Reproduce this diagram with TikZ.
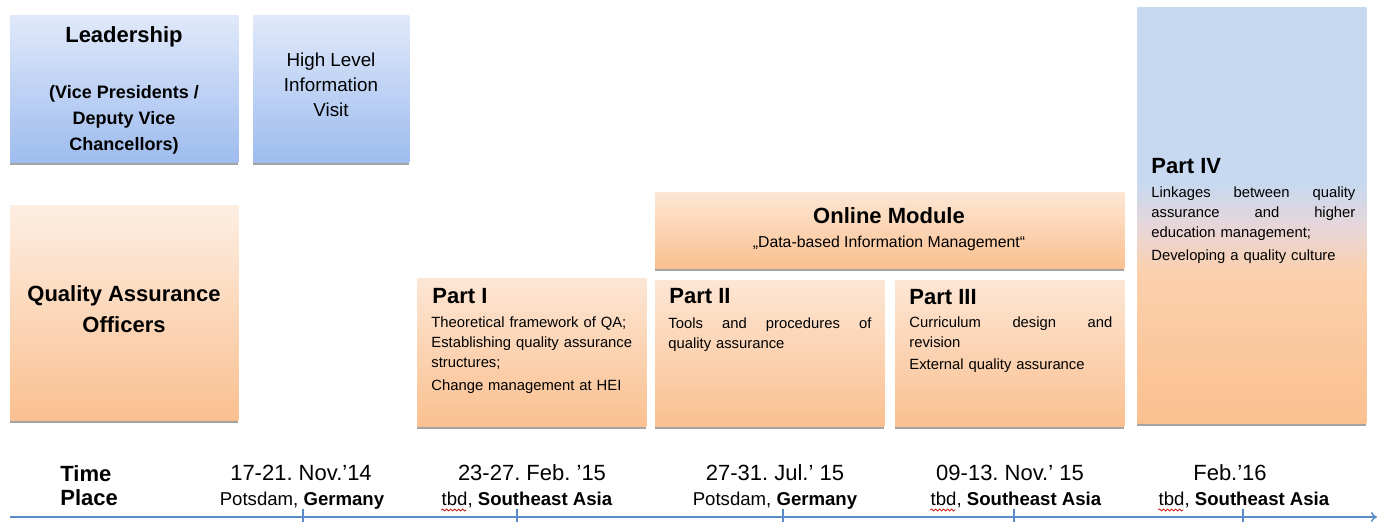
\documentclass[tikz,border=0pt]{standalone}
\usepackage{fontspec}
\setmainfont{Liberation Sans}
\usetikzlibrary{shadows,arrows.meta,decorations.pathmorphing}
\frenchspacing
\definecolor{bluetop}{RGB}{224,233,250}
\definecolor{bluebot}{RGB}{158,188,238}
\definecolor{orntop}{RGB}{253,230,212}
\definecolor{ornlight}{RGB}{253,238,226}
\definecolor{ornbot}{RGB}{250,192,144}
\definecolor{pivblue}{RGB}{198,217,240}
\definecolor{pivpink}{RGB}{232,214,216}
\definecolor{pivpeach}{RGB}{252,208,172}
\definecolor{axisblue}{RGB}{91,139,201}
\pgfdeclareverticalshading{partiv}{100bp}{color(0bp)=(ornbot); color(25bp)=(ornbot); color(43bp)=(pivpeach); color(48.5bp)=(pivpink); color(54bp)=(pivblue); color(100bp)=(pivblue)}
\newcommand{\jline}[2]{\makebox[#1][l]{#2}}
\tikzset{
  shbox/.style={draw=none, inner sep=0pt, anchor=north west,
    drop shadow={shadow xshift=0pt, shadow yshift=-1.3pt, fill=black!40, opacity=0.9}},
  bluebox/.style={shbox, top color=bluetop, bottom color=bluebot},
  orangebox/.style={shbox, top color=orntop, bottom color=ornbot},
  headbig/.style={font=\fontsize{11}{15.5}\selectfont\bfseries, inner sep=0pt},
  headsub/.style={font=\fontsize{9}{13}\selectfont\bfseries, inner sep=0pt, align=center},
  plain/.style={font=\fontsize{9.4}{12.5}\selectfont, inner sep=0pt, align=center},
  parttitle/.style={font=\fontsize{11}{13}\selectfont\bfseries, inner sep=0pt, anchor=base west},
  body/.style={font=\fontsize{7.4}{10}\selectfont, inner sep=0pt, anchor=base west, align=left, text width=110pt},
  small/.style={font=\fontsize{7.9}{10}\selectfont, inner sep=0pt, anchor=base},
  datetxt/.style={font=\fontsize{11}{13}\selectfont, inner sep=0pt, anchor=base},
  placetxt/.style={font=\fontsize{9.3}{11}\selectfont, inner sep=0pt, anchor=base},
  tltxt/.style={font=\fontsize{11}{13}\selectfont\bfseries, inner sep=0pt, anchor=base west},
  axisline/.style={draw=axisblue, line width=0.75pt},
  squig/.style={draw=red!80!black, line width=0.35pt, decorate, decoration={snake, amplitude=0.5pt, segment length=2pt}},
}
\begin{document}
\begin{tikzpicture}[x=0.5pt, y=-0.5pt]
\useasboundingbox (0,0) rectangle (1379,522);
% boxes
\node[bluebox, minimum width=114pt, minimum height=73.5pt] (leader) at (10,15) {};
\node[bluebox, minimum width=78pt, minimum height=73.5pt] (hlv) at (253,15) {};
\node[shbox, top color=ornlight, bottom color=ornbot, minimum width=114pt, minimum height=107.5pt] (qao) at (10,205) {};
\node[orangebox, minimum width=114.5pt, minimum height=74pt] (p1) at (417,278) {};
\node[orangebox, minimum width=234.5pt, minimum height=38pt] (online) at (655,192) {};
\node[orangebox, minimum width=114.5pt, minimum height=73pt] (p2) at (655,280) {};
\node[orangebox, minimum width=114.5pt, minimum height=73pt] (p3) at (895,280) {};
\node[shbox, shading=partiv, minimum width=114.5pt, minimum height=208pt] (p4) at (1137,7) {};
% texts in boxes
\node[headbig, anchor=base] (leadT) at (124,43) {Leadership};
\node[headsub, anchor=base] (leadS) at (124,151) {(Vice Presidents /\\Deputy Vice\\Chancellors)};
\node[plain, anchor=base] (hlvT) at (331,117) {High Level\\Information\\Visit};
\node[headbig, align=center, anchor=base] (qaoT) at (124,333) {Quality Assurance\\Officers};
\node[headbig, anchor=base] (onlineT) at (889,224) {Online Module};
\node[small] (onlineS) at (889,248) {„Data-based Information Management“};
\node[parttitle] (p1T) at (432,304) {Part I};
\node[body] (p1B) at (431,328) {Theoretical framework of QA;\\Establishing quality assurance\\structures;\\[1.5pt]Change management at HEI};
\node[parttitle] (p2T) at (669,304) {Part II};
\node[body] (p2B) at (668,329) {\jline{101.5pt}{Tools\hfill and\hfill procedures\hfill of}\\quality assurance};
\node[parttitle] (p3T) at (909,305) {Part III};
\node[body] (p3B) at (909,328) {\jline{101.5pt}{Curriculum\hfill design\hfill and}\\revision\\[1pt]External quality assurance};
\node[parttitle] (p4T) at (1151,174) {Part IV};
\node[body] (p4B) at (1151,198) {\jline{102pt}{Linkages\hfill between\hfill quality}\\\jline{102pt}{assurance\hfill and\hfill higher}\\education management;\\[1.5pt]Developing a quality culture};
% timeline
\node[tltxt] (time) at (60,482) {Time};
\node[tltxt] (place) at (60,506) {Place};
\node[datetxt] (d1) at (301,481) {17-21. Nov.’14};
\node[placetxt] (l1) at (302,506) {Potsdam, \textbf{Germany}};
\node[datetxt] (d2) at (532,481) {23-27. Feb. ’15};
\node[placetxt] (l2) at (527,506) {tbd, \textbf{Southeast Asia}};
\node[datetxt] (d3) at (775,481) {27-31. Jul.’ 15};
\node[placetxt] (l3) at (775,506) {Potsdam, \textbf{Germany}};
\node[datetxt] (d4) at (1010,481) {09-13. Nov.’ 15};
\node[placetxt] (l4) at (1016,506) {tbd, \textbf{Southeast Asia}};
\node[datetxt] (d5) at (1230,481) {Feb.’16};
\node[placetxt] (l5) at (1244,506) {tbd, \textbf{Southeast Asia}};
\foreach \n in {l2,l4,l5} {
  \draw[squig] ([yshift=-2pt]\n.base west) -- ++(12.5pt,0pt);
}
\coordinate (ax0) at (10,517);
\coordinate (ax1) at (1377,517);
\draw[axisline, -{To[length=3pt,width=5pt]}] (ax0) -- (ax1);
\foreach \x [count=\i] in {303,517,783,1014,1243} {
  \coordinate (tk\i a) at (\x,509);
  \coordinate (tk\i b) at (\x,522);
  \draw[axisline] (tk\i a) -- (tk\i b);
}
\end{tikzpicture}
\end{document}
